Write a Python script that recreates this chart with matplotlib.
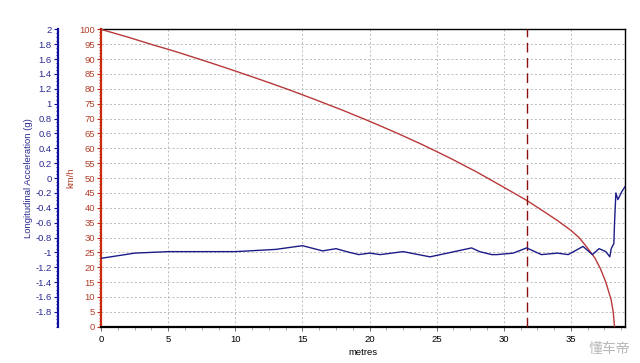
import matplotlib.pyplot as plt
from matplotlib.ticker import MultipleLocator, FixedLocator

plt.rcParams["font.family"] = ["Liberation Sans", "DejaVu Sans"]

# speed trace (km/h) against distance (m)
dist_speed = [0, 2, 4, 5, 6, 8, 10, 12, 14, 16, 18, 20, 22, 24, 26, 28, 30,
              31.7, 33, 34, 35, 35.6, 36, 36.4, 36.8, 37.2, 37.6, 38.0, 38.15,
              38.25]
speed_kmh = [100, 97.4, 94.6, 93.3, 91.9, 89.0, 86.0, 82.9, 79.7, 76.3, 72.8,
             69.1, 65.2, 61.1, 56.7, 52.0, 46.9, 42.5, 38.7, 35.7, 32.4, 30.0,
             27.8, 25.5, 23.0, 19.5, 15.0, 9.0, 5.0, 0]

# longitudinal acceleration (g) against distance (m)
dist_acc = [0, 2.5, 5, 7.5, 10, 12, 13, 15, 16.5, 17.5, 18.5, 19.2, 20, 20.8,
            22.5, 24.5, 25.8, 27.6, 28.2, 29.1, 29.5, 30.7, 31.7, 32.8, 34.0,
            34.8, 35.9, 36.6, 37.1, 37.6, 37.9, 38.0, 38.2, 38.25, 38.3,
            38.35, 38.5, 38.8, 39.05]
accel_g = [-1.08, -1.01, -0.99, -0.99, -0.99, -0.97, -0.96, -0.91, -0.98,
           -0.95, -1.0, -1.03, -1.01, -1.03, -0.99, -1.06, -1.01, -0.94, -0.99,
           -1.03, -1.03, -1.01, -0.94, -1.03, -1.01, -1.03, -0.92, -1.03,
           -0.95, -0.99, -1.06, -0.95, -0.88, -0.6, -0.4, -0.2, -0.29, -0.18,
           -0.11]

marker_dist = 31.7
speed_ticks = list(range(0, 101, 5))
accel_ticks = [round(-1.8 + 0.2 * i, 1) for i in range(20)]

RED = "#cc2a10"
RED_TXT = "#b0402c"
RED_LINE = "#b8393a"
BLUE = "#1010a0"
BLUE_TXT = "#2a2a90"
BLUE_LINE = "#1c1c88"

fig = plt.figure(figsize=(6.4, 3.63), dpi=100)
ax = fig.add_axes([0.158, 0.100, 0.819, 0.819])

ax.set_xlim(0, 39.05)
ax.set_ylim(0, 100)
ax.yaxis.set_major_locator(FixedLocator(speed_ticks))
ax.yaxis.set_minor_locator(MultipleLocator(1))
ax.xaxis.set_major_locator(MultipleLocator(5))
ax.xaxis.set_minor_locator(MultipleLocator(1.25))
ax.grid(True, which="major", color="#b4b4b4", linestyle=(0, (2.5, 2.5)), linewidth=0.6)

ax.plot(dist_speed, speed_kmh, color=RED_LINE, linewidth=1.0, zorder=3)
ax.axvline(marker_dist, color="#8a1010", linestyle=(0, (7, 4)), linewidth=1.0, zorder=3)

for side in ("top", "right", "bottom"):
    ax.spines[side].set_color("black")
ax.spines["bottom"].set_linewidth(1.6)
ax.spines["top"].set_linewidth(1.0)
ax.spines["right"].set_linewidth(1.0)
ax.spines["left"].set_color(RED)
ax.spines["left"].set_linewidth(1.6)

ax.tick_params(axis="y", which="major", colors=RED, labelcolor=RED_TXT,
               labelsize=6.8, length=3, width=0.8, pad=1.5)
ax.tick_params(axis="y", which="minor", colors=RED, length=1.5, width=0.6)
ax.tick_params(axis="x", which="major", colors="#555555", labelcolor="black",
               labelsize=6.8, length=3, width=0.6, pad=3)
ax.tick_params(axis="x", which="minor", colors="#888888", length=2, width=0.5)
ax.set_xlabel("metres", fontsize=6.8, labelpad=3)
ax.set_ylabel("km/h", fontsize=6.8, color=RED_TXT)
ax.yaxis.set_label_coords(-0.05, 0.5)

ax2 = ax.twinx()
ax2.set_ylim(-2, 2)
ax2.plot(dist_acc, accel_g, color=BLUE_LINE, linewidth=1.0, zorder=4)
ax2.yaxis.set_label_position("left")
ax2.yaxis.set_ticks_position("left")
ax2.spines["left"].set_position(("axes", -0.082))
ax2.spines["left"].set_color(BLUE)
ax2.spines["left"].set_linewidth(1.6)
for side in ("top", "right", "bottom"):
    ax2.spines[side].set_visible(False)
ax2.yaxis.set_major_locator(FixedLocator(accel_ticks))
ax2.yaxis.set_minor_locator(MultipleLocator(0.05))
ax2.set_yticklabels([f"{t:g}" for t in accel_ticks])
ax2.tick_params(axis="y", which="major", colors=BLUE, labelcolor=BLUE_TXT,
                labelsize=6.8, length=3, width=0.8, pad=1.5)
ax2.tick_params(axis="y", which="minor", colors=BLUE, length=1.5, width=0.6)
ax2.set_ylabel("Longitudinal Acceleration (g)", fontsize=6.8, color=BLUE_TXT)
ax2.yaxis.set_label_coords(-0.13, 0.5)

# watermark
fig.text(0.985, 0.02, "懂车帝", fontsize=10, color="#b8b8b8", ha="right", va="bottom",
         family=["Noto Sans CJK SC", "DejaVu Sans"])

fig.savefig("out.png", dpi=100, facecolor="white")
